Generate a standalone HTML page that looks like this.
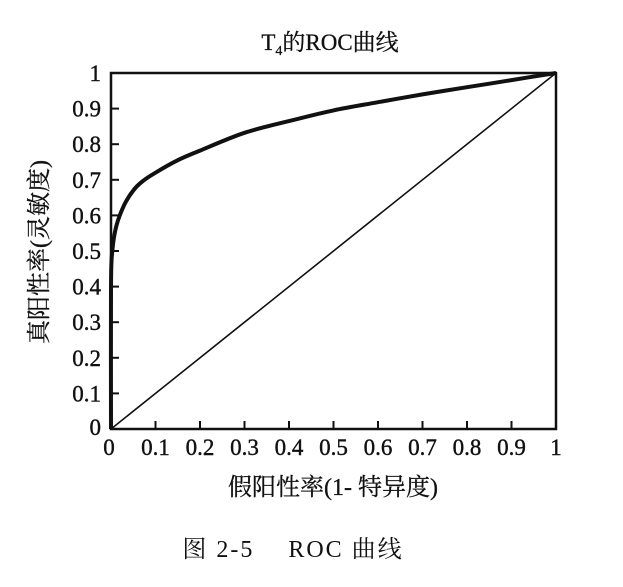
<!DOCTYPE html>
<html><head><meta charset="utf-8"><style>
body{margin:0;background:#fff;}
svg text{font-family:"Liberation Serif","Noto Serif CJK SC",serif;fill:#111;}
</style></head><body>
<svg width="623" height="582" xmlns="http://www.w3.org/2000/svg">
<text x="330" y="50" font-size="23" text-anchor="middle" stroke="#111" stroke-width="0.3">T<tspan font-size="14" dy="5">4</tspan><tspan dy="-5">的ROC曲线</tspan></text>
<g id="axes"></g>
<text transform="translate(47,252) rotate(-90)" font-size="24" text-anchor="middle" stroke="#111" stroke-width="0.3">真阳性率(灵敏度)</text>
<text x="333" y="495" font-size="24" text-anchor="middle" stroke="#111" stroke-width="0.3">假阳性率(1- 特异度)</text>
<text x="293" y="557" font-size="24" letter-spacing="2" text-anchor="middle">图 2-5　 ROC 曲线</text>
</svg>
<script>
const ticks=[0,0.1,0.2,0.3,0.4,0.5,0.6,0.7,0.8,0.9,1];
const tickLabels=["0","0.1","0.2","0.3","0.4","0.5","0.6","0.7","0.8","0.9","1"];
const fpr=[0,0,0.003,0.012,0.03,0.05,0.07,0.1,0.15,0.2,0.3,0.4,0.5,0.6,0.7,0.8,0.9,1];
const tpr=[0,0.4,0.5,0.57,0.63,0.67,0.695,0.72,0.755,0.782,0.832,0.865,0.895,0.918,0.94,0.96,0.98,1];
const X0=111,X1=556,Y0=429,Y1=73;
const sx=v=>X0+v*(X1-X0), sy=v=>Y0-v*(Y0-Y1);
const NS="http://www.w3.org/2000/svg";
const g=document.getElementById('axes');
function mk(t,a){const e=document.createElementNS(NS,t);for(const k in a)e.setAttribute(k,a[k]);g.appendChild(e);return e;}
const frame=mk('rect',{x:X0,y:Y1,width:X1-X0,height:Y0-Y1,fill:'none',stroke:'#111','stroke-width':2.5});


ticks.forEach((t,i)=>{
  const xt=mk('line',{x1:sx(t),x2:sx(t),y1:Y0,y2:Y0-8,stroke:'#111','stroke-width':2});
  
  
  const yt=mk('line',{x1:X0,x2:X0+8,y1:sy(t),y2:sy(t),stroke:'#111','stroke-width':2});
  
  
  const xl=mk('text',{x:sx(t)+(i==0?-2:0),y:Y0+26,'font-size':23,'text-anchor':'middle',stroke:'#111','stroke-width':0.4});
  xl.textContent=tickLabels[i];
  
  
  const yl=mk('text',{x:X0-10,y:sy(t)+(i==0?6:8),'font-size':23,'text-anchor':'end',stroke:'#111','stroke-width':0.4});
  yl.textContent=tickLabels[i];
  
  
});
const diag=mk('line',{x1:sx(0),y1:sy(0),x2:sx(1),y2:sy(1),stroke:'#111','stroke-width':1.6});


const P=fpr.map((v,i)=>[sx(v),sy(tpr[i])]);
let d='M'+P[0][0]+','+P[0][1];
for(let i=0;i<P.length-1;i++){
  const p0=P[Math.max(0,i-1)],p1=P[i],p2=P[i+1],p3=P[Math.min(P.length-1,i+2)];
  const c1=[p1[0]+(p2[0]-p0[0])/6,p1[1]+(p2[1]-p0[1])/6];
  const c2=[p2[0]-(p3[0]-p1[0])/6,p2[1]-(p3[1]-p1[1])/6];
  d+=`C${c1[0].toFixed(1)},${c1[1].toFixed(1)} ${c2[0].toFixed(1)},${c2[1].toFixed(1)} ${p2[0].toFixed(1)},${p2[1].toFixed(1)}`;
}
const roc=mk('path',{d:d,fill:'none',stroke:'#111','stroke-width':4,'stroke-linejoin':'round'});


</script>
</body></html>
